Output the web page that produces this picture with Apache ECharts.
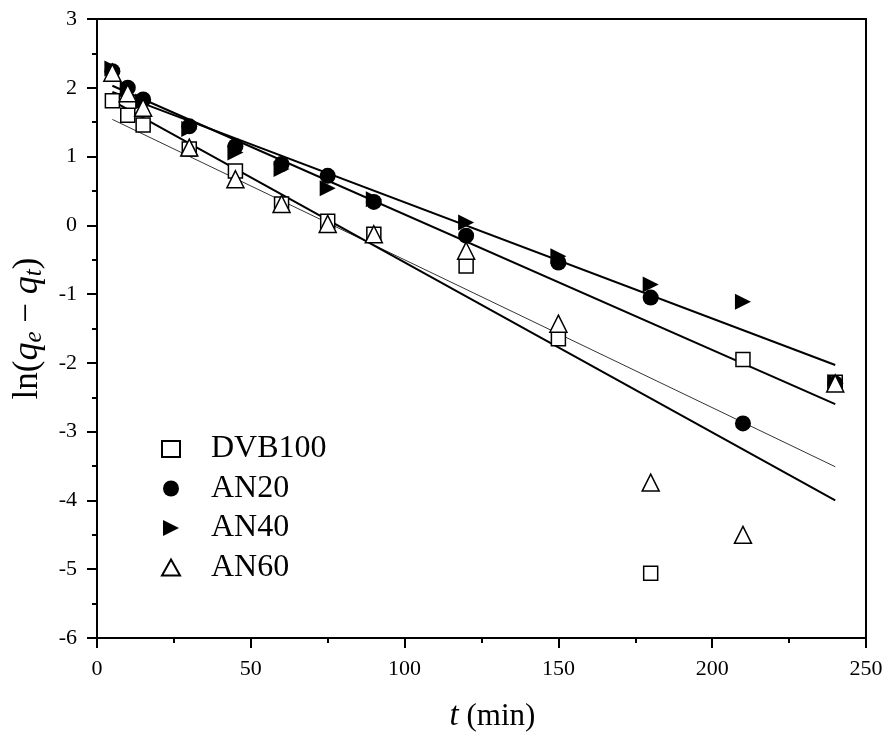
<!DOCTYPE html>
<html><head><meta charset="utf-8">
<script src="https://cdn.jsdelivr.net/npm/echarts@6/dist/echarts.min.js"></script>
<style>html,body{margin:0;padding:0;background:#fff}#c{width:891px;height:732px}</style>
</head><body><div id="c"></div>
<script>
const times = [5, 10, 15, 30, 45, 60, 75, 90, 120, 150, 180, 210, 240];
const dvb100 = [1.81, 1.60, 1.46, 1.11, 0.79, 0.31, 0.06, -0.13, -0.59, -1.65, -5.06, -1.95, -2.28];
const an20 = [2.24, 2.00, 1.83, 1.44, 1.15, 0.89, 0.72, 0.34, -0.15, -0.54, -1.05, -2.88, -2.30];
const an40 = [2.28, 1.98, 1.80, 1.40, 1.06, 0.82, 0.54, 0.38, 0.04, -0.45, -0.86, -1.11, -2.28];
const an60 = [2.22, 1.92, 1.71, 1.13, 0.67, 0.31, 0.02, -0.13, -0.37, -1.43, -3.74, -4.50, -2.30];
// fitted lines: endpoints [tStart, tEnd]
const fitT = [5, 240];
const fitDVB100 = [1.54, -3.51];
const fitAN20 = [2.03, -2.60];
const fitAN40 = [1.94, -2.03];
const fitAN60 = [1.81, -4.00];
const seriesNames = ['DVB100', 'AN20', 'AN40', 'AN60'];

const pair = (xs, ys) => xs.map((x, i) => [x, ys[i]]);
const font = "'Liberation Serif', 'Times New Roman', serif";
const rightTri = 'path://M0,0 L10,5 L0,10 Z';
const mk = (name, data, symbol, filled, size) => ({
  name, type: 'scatter', data: pair(times, data), symbol, symbolSize: size, z: 5,
  itemStyle: filled ? {color: '#000', borderColor: '#000', borderWidth: 0, opacity: 1}
                    : {color: '#fff', borderColor: '#000', borderWidth: 1.5, opacity: 1}
});
const fit = (ys, w) => ({
  type: 'line', data: pair(fitT, ys), symbol: 'none', silent: true, z: 3,
  lineStyle: {color: '#000', width: w}
});
const tickStyle = {color: '#000', width: 2};

const chart = echarts.init(document.getElementById('c'));
chart.setOption({
  animation: false,
  backgroundColor: '#fff',
  textStyle: {fontFamily: font},
  grid: {left: 97, right: 25, top: 19, bottom: 94, containLabel: false, outerBoundsMode: 'none',
         show: true, borderColor: '#000', borderWidth: 2, backgroundColor: 'transparent'},
  legend: {
    orient: 'vertical', left: 156, top: 428, itemGap: 7.5, itemWidth: 18, itemHeight: 16,
    textStyle: {fontFamily: font, fontSize: 32, color: '#000', padding: [0, 0, 0, 26]},
    data: seriesNames
  },
  xAxis: {
    type: 'value', min: 0, max: 250, interval: 50,
    name: '{i|t}{n| (min)}', nameLocation: 'middle', nameGap: 62, nameMoveOverlap: false,
    nameTextStyle: {rich: {
      i: {fontFamily: font, fontStyle: 'italic', fontSize: 33, color: '#000', padding: [0, 0, 0, 22]},
      n: {fontFamily: font, fontSize: 31, color: '#000'}}},
    axisLine: {onZero: false, lineStyle: {color: '#000', width: 2}},
    axisTick: {length: 10, lineStyle: tickStyle},
    minorTick: {show: true, splitNumber: 2, length: 5, lineStyle: tickStyle},
    axisLabel: {fontFamily: font, fontSize: 22, color: '#000', margin: 20},
    splitLine: {show: false}
  },
  yAxis: {
    type: 'value', min: -6, max: 3, interval: 1,
    name: '{n|ln(}{i|q}{s|e}{n| − }{i|q}{s|t}{n|)}', nameLocation: 'middle', nameGap: 50, nameMoveOverlap: false,
    nameTextStyle: {rich: {
      n: {fontFamily: font, fontSize: 35, color: '#000'},
      i: {fontFamily: font, fontStyle: 'italic', fontSize: 36, color: '#000'},
      s: {fontFamily: font, fontStyle: 'italic', fontSize: 25, color: '#000', padding: [14, 0, 0, 0]}
    }},
    axisLine: {onZero: false, lineStyle: {color: '#000', width: 2}},
    axisTick: {length: 10, lineStyle: tickStyle},
    minorTick: {show: true, splitNumber: 2, length: 5, lineStyle: tickStyle},
    axisLabel: {fontFamily: font, fontSize: 22, color: '#000', margin: 20},
    splitLine: {show: false}
  },
  series: [
    fit(fitDVB100, 0.8), fit(fitAN20, 2), fit(fitAN40, 2), fit(fitAN60, 2),
    mk('DVB100', dvb100, 'rect', false, 14),
    mk('AN20', an20, 'circle', true, 16),
    mk('AN40', an40, rightTri, true, 16),
    mk('AN60', an60, 'triangle', false, 17)
  ]
});
</script></body></html>
